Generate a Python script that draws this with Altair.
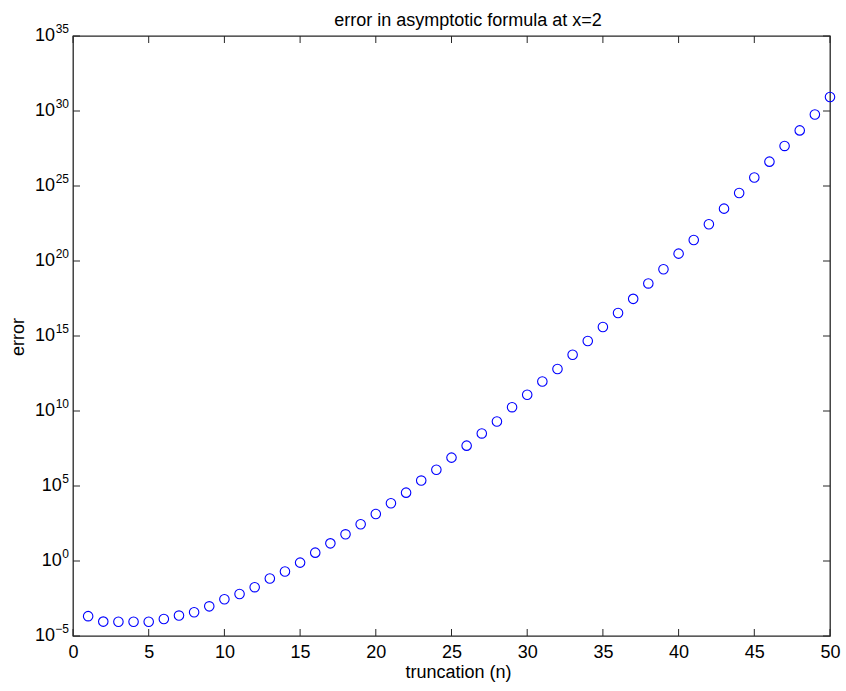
import altair as alt
import pandas as pd

# ---- data ----
n_values = list(range(1, 51))
error_values = [
    2.1e-4, 9.1e-5, 8.9e-5, 8.9e-5, 8.9e-5, 1.35e-4, 2.3e-4, 3.8e-4, 9.5e-4, 2.8e-3,
    6.3e-3, 1.8e-2, 6.8e-2, 0.20, 0.78, 3.6, 15.0, 60.0, 280.0, 1350.0,
    7.1e3, 3.6e4, 2.3e5, 1.2e6, 7.8e6, 4.9e7, 3.2e8, 2.0e9, 1.8e10, 1.2e11,
    9.3e11, 6.3e12, 5.6e13, 4.6e14, 4.0e15, 3.4e16, 3.0e17, 3.2e18, 2.8e19, 3.1e20,
    2.5e21, 2.8e22, 3.1e23, 3.4e24, 3.7e25, 4.2e26, 4.7e27, 5.1e28, 5.9e29, 8.5e30,
]
x_ticks = [0, 5, 10, 15, 20, 25, 30, 35, 40, 45, 50]
y_tick_exponents = [-5, 0, 5, 10, 15, 20, 25, 30, 35]
title_text = ["error in asymptotic formula at x=2"]

FONT = "Liberation Sans"
W, H = 757, 600
X_DOMAIN = [0, 50]
Y_DOMAIN = [1e-5, 1e35]
FRAME = "#262626"

points_df = pd.DataFrame({"n": n_values, "err": error_values})
xt_df = pd.DataFrame({"t": x_ticks})
yt_df = pd.DataFrame({
    "v": [10.0 ** e for e in y_tick_exponents],
    "base": ["10"] * len(y_tick_exponents),
    "exp": [("\u2212" + str(-e)) if e < 0 else str(e) for e in y_tick_exponents],
})
title_df = pd.DataFrame({"label": title_text})

xs = alt.Scale(domain=X_DOMAIN, nice=False, zero=False)
ys = alt.Scale(type="log", domain=Y_DOMAIN, nice=False)

points = alt.Chart(points_df).mark_point(
    shape="circle", filled=False, color="#0000ff", size=90, strokeWidth=1.1, opacity=1
).encode(
    x=alt.X("n:Q", scale=xs, axis=alt.Axis(
        values=x_ticks, title="truncation (n)", grid=False, ticks=False, domain=False,
        labelFont=FONT, labelFontSize=18, labelColor="black", labelPadding=7,
        labelFlush=False, labelOverlap=False,
        titleFont=FONT, titleFontSize=18, titleFontWeight="normal", titleColor="black",
        titleX=385, titleY=41.5, titleBaseline="alphabetic", titleAlign="center",
    )),
    y=alt.Y("err:Q", scale=ys, axis=alt.Axis(
        title="error", grid=False, ticks=False, domain=False, labels=False,
        titleFont=FONT, titleFontSize=18, titleFontWeight="normal", titleColor="black",
        titleX=-50, titleY=300.5, titleAngle=270, titleBaseline="alphabetic",
        titleAlign="center",
    )),
)

# inward ticks (MATLAB style) on all four sides
tick_len = 7
xt_bottom = alt.Chart(xt_df).mark_rule(color=FRAME, strokeWidth=1).encode(
    x=alt.X("t:Q", scale=xs), y=alt.value(H), y2=alt.value(H - tick_len))
xt_top = alt.Chart(xt_df).mark_rule(color=FRAME, strokeWidth=1).encode(
    x=alt.X("t:Q", scale=xs), y=alt.value(0), y2=alt.value(tick_len))
yt_left = alt.Chart(yt_df).mark_rule(color=FRAME, strokeWidth=1).encode(
    y=alt.Y("v:Q", scale=ys), x=alt.value(0), x2=alt.value(tick_len))
yt_right = alt.Chart(yt_df).mark_rule(color=FRAME, strokeWidth=1).encode(
    y=alt.Y("v:Q", scale=ys), x=alt.value(W), x2=alt.value(W - tick_len))

# y tick labels as 10 with superscript exponent
exp_labels = alt.Chart(yt_df).mark_text(
    font=FONT, fontSize=12, align="right", baseline="middle", dy=-7, color="black"
).encode(
    y=alt.Y("v:Q", scale=ys), x=alt.value(-4), text="exp:N")
base_labels = alt.Chart(yt_df).transform_calculate(
    lx="-4.5 - 6.7 * length(datum.exp)"
).mark_text(
    font=FONT, fontSize=18, align="right", baseline="middle", color="black"
).encode(
    y=alt.Y("v:Q", scale=ys), x=alt.X("lx:Q", scale=None), text="base:N")

# chart title as a text mark above the plot
title_mark = alt.Chart(title_df).mark_text(
    font=FONT, fontSize=18, align="center", baseline="alphabetic", color="black"
).encode(x=alt.value(395), y=alt.value(-10.3), text="label:N")

chart = alt.layer(
    points, xt_bottom, xt_top, yt_left, yt_right, exp_labels, base_labels, title_mark
).properties(
    width=W, height=H,
    padding={"left": 73, "top": 36, "right": 16, "bottom": 55},
    autosize=alt.AutoSizeParams(type="none"),
    background="white",
).configure_view(
    stroke=FRAME, strokeWidth=1.3
)

chart.save("out.html", embed_options={"renderer": "svg", "actions": False})
